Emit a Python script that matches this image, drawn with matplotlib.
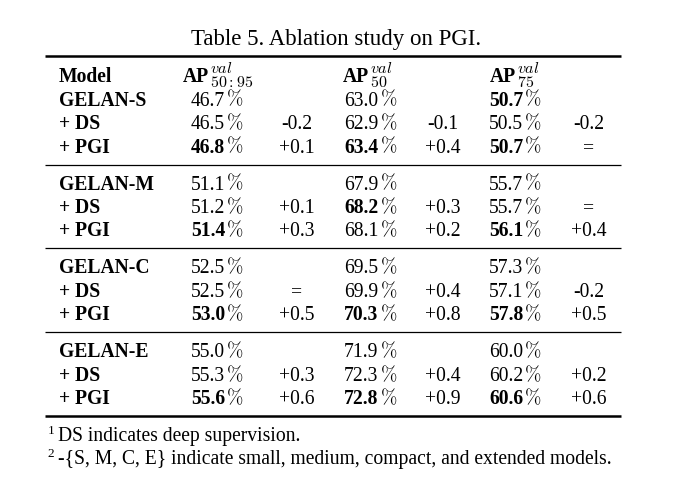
import matplotlib
matplotlib.use("Agg")
import matplotlib.pyplot as plt

plt.rcParams['mathtext.fontset'] = 'cm'

title = "Table 5. Ablation study on PGI."
models = ["GELAN-S", "+ DS", "+ PGI",
          "GELAN-M", "+ DS", "+ PGI",
          "GELAN-C", "+ DS", "+ PGI",
          "GELAN-E", "+ DS", "+ PGI"]
ap5095 = ["46.7%", "46.5%", "46.8%", "51.1%", "51.2%", "51.4%",
          "52.5%", "52.5%", "53.0%", "55.0%", "55.3%", "55.6%"]
d5095 = ["", "-0.2", "+0.1", "", "+0.1", "+0.3", "", "=", "+0.5", "", "+0.3", "+0.6"]
ap50 = ["63.0%", "62.9%", "63.4%", "67.9%", "68.2%", "68.1%",
        "69.5%", "69.9%", "70.3%", "71.9%", "72.3%", "72.8%"]
d50 = ["", "-0.1", "+0.4", "", "+0.3", "+0.2", "", "+0.4", "+0.8", "", "+0.4", "+0.9"]
ap75 = ["50.7%", "50.5%", "50.7%", "55.7%", "55.7%", "56.1%",
        "57.3%", "57.1%", "57.8%", "60.0%", "60.2%", "60.6%"]
d75 = ["", "-0.2", "=", "", "=", "+0.4", "", "-0.2", "+0.5", "", "+0.2", "+0.6"]
bold5095 = [0, 0, 1, 0, 0, 1, 0, 0, 1, 0, 0, 1]
bold50 = [0, 0, 1, 0, 1, 0, 0, 0, 1, 0, 0, 1]
bold75 = [1, 0, 1, 0, 0, 1, 0, 0, 1, 0, 0, 1]
headers = ["Model", "AP", "AP", "AP"]
sups = ["val", "val", "val"]
subs = ["50{:}95", "50", "75"]
footnotes = ["DS indicates deep supervision.",
             "-{S, M, C, E} indicate small, medium, compact, and extended models."]

FONT = "Liberation Serif"
FS = 14.1

fig = plt.figure(figsize=(6.8, 4.95), dpi=100)
ax = fig.add_axes([0, 0, 1, 1])
ax.set_xlim(0, 680)
ax.set_ylim(495, 0)
ax.axis("off")

ax.text(336, 45, title, ha="center", va="baseline", fontsize=16.5, family=FONT)

# rules
x0, x1 = 45, 621
ax.plot([x0, x1], [55.5, 55.5], color="black", lw=1.8, solid_capstyle="butt")
for yy in [164.5, 248.3, 332.1]:
    ax.plot([x0, x1], [yy, yy], color="black", lw=0.9, solid_capstyle="butt")
ax.plot([x0, x1], [416.2, 416.2], color="black", lw=1.8, solid_capstyle="butt")

# header
hy = 82
ax.text(59, hy, headers[0], ha="left", va="baseline", fontsize=FS, family=FONT, weight="bold")
ap_x = [182.7, 342.7, 490]
for i in range(3):
    ax.text(ap_x[i], hy, headers[i + 1], ha="left", va="baseline", fontsize=FS,
            family=FONT, weight="bold")
    ax.text(ap_x[i] + 26.0, hy, "${}^{" + sups[i] + "}_{" + subs[i] + "}$",
            ha="left", va="baseline", fontsize=16.5)

# body rows
row_y = []
for g in range(4):
    for k, off in enumerate([0, 23.7, 47.0]):
        row_y.append(105.7 + g * 83.8 + off)
pct_x = [225.0, 378.5, 523.3]
col_d = [297, 443, 588.5]
vals = [ap5095, ap50, ap75]
ds = [d5095, d50, d75]
bolds = [bold5095, bold50, bold75]
for r, y in enumerate(row_y):
    ax.text(59, y, models[r], ha="left", va="baseline", fontsize=FS, family=FONT, weight="bold")
    for c in range(3):
        b = bolds[c][r]
        num = vals[c][r].rstrip("%")
        ax.text(pct_x[c], y, num, ha="right", va="baseline", fontsize=FS,
                family=FONT, weight="bold" if b else "normal")
        ax.text(pct_x[c] + 1.0, y, r"$\mathbf{\%}$" if b else r"$\%$", ha="left",
                va="baseline", fontsize=FS)
        if ds[c][r]:
            ax.text(col_d[c], y, ds[c][r], ha="center", va="baseline", fontsize=FS, family=FONT)

# footnotes
fy = [440.7, 464.3]
for i, f in enumerate(footnotes):
    ax.text(47.3, fy[i] - 7, str(i + 1), ha="left", va="baseline", fontsize=9.5, family=FONT)
    ax.text(57.5, fy[i], f, ha="left", va="baseline", fontsize=FS, family=FONT)

fig.savefig("out.png", dpi=100)
